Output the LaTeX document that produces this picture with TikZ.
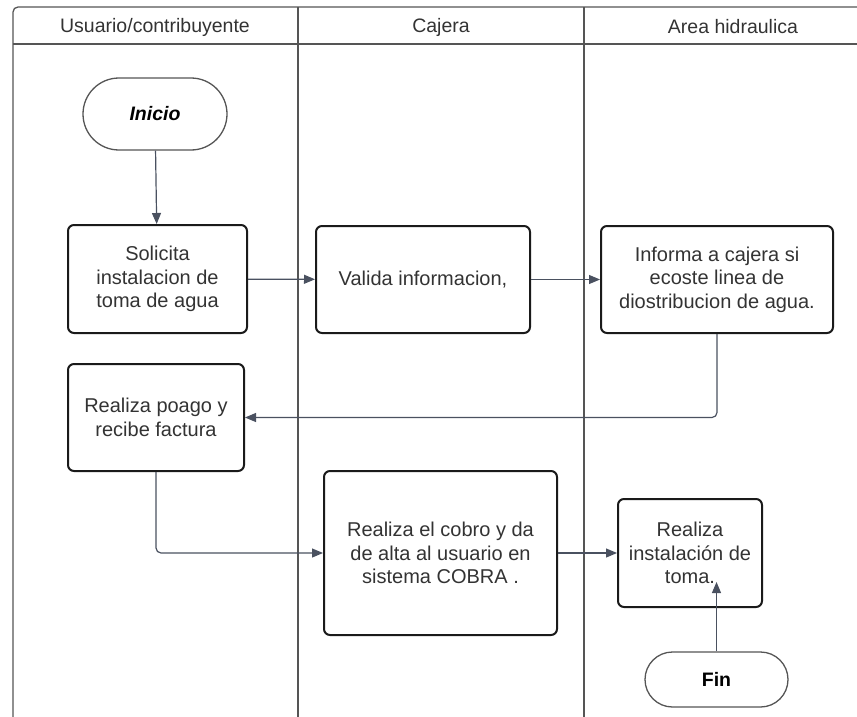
\documentclass[tikz,border=0pt]{standalone}
\usepackage{fontspec}
\setmainfont{Liberation Sans}
\usetikzlibrary{arrows.meta,calc}
\definecolor{lanec}{HTML}{555555}
\definecolor{connc}{HTML}{4A5160}
\definecolor{txtc}{HTML}{333333}
\definecolor{bordc}{HTML}{1A1A1A}
\begin{document}
\begin{tikzpicture}[x=1pt,y=-1pt,
  lanel/.style={draw=lanec,line width=1.3pt},
  hdr/.style={font=\fontsize{19.5}{22}\selectfont,text=txtc,inner sep=0pt},
  proc/.style={draw=bordc,line width=2pt,rounded corners=6pt,align=center,text=txtc,
    font=\fontsize{20}{23.5}\selectfont,inner sep=0pt},
  term/.style={draw=lanec,line width=1.3pt,align=center,text=black,inner sep=0pt,
    font=\fontsize{19.5}{22}\selectfont\bfseries},
  conn/.style={draw=connc,line width=1.2pt,-{Triangle[length=11pt,width=9pt]}}]
\useasboundingbox (0,0) rectangle (857,717);
% swimlanes
\draw[lanel,rounded corners=5pt] (13,717) -- (13,7) -- (857,7);
\draw[lanel] (13,44) -- (857,44);
\draw[lanel] (298,7) -- (298,717);
\draw[lanel] (584,7) -- (584,717);
\node[hdr] (h1) at (155,27) {Usuario/contribuyente};
\node[hdr] (h2) at (441,27) {Cajera};
\node[hdr] (h3) at (733,27) {Area hidraulica};
% nodes
\node[term,minimum width=144pt,minimum height=72pt,rounded corners=36pt] (inicio) at (155,114) {\itshape Inicio};
\node[proc,minimum width=179pt,minimum height=108pt] (solicita) at (157.5,279) {Solicita\\instalacion de\\toma de agua};
\node[proc,minimum width=214pt,minimum height=107pt] (valida) at (423,279.5) {Valida informacion,};
\node[proc,minimum width=232pt,minimum height=107pt] (informa) at (717,279.5) {Informa a cajera si\\ecoste linea de\\diostribucion de agua.};
\node[proc,minimum width=176pt,minimum height=107pt] (poago) at (156,417.5) {Realiza poago y\\recibe factura};
\node[proc,minimum width=233pt,minimum height=164pt] (cobro) at (440.5,553) {Realiza el cobro y da\\de alta al usuario en\\sistema COBRA .};
\node[proc,minimum width=144pt,minimum height=108pt] (instal) at (690,553) {Realiza\\instalación de\\toma.};
\node[term,minimum width=143pt,minimum height=55pt,rounded corners=27.5pt] (fin) at (716.5,679.5) {Fin};
\coordinate (finend) at (716.5,582);
% connectors
\draw[conn] (inicio) -- (solicita);
\draw[conn] (solicita) -- (valida);
\draw[conn] (valida) -- (informa);
\draw[conn,rounded corners=5pt] (informa.south) |- (poago.east);
\draw[conn,rounded corners=5pt] (poago.south) |- (cobro.west);
\draw[conn] (cobro) -- (instal);
\draw[conn] (fin.north) -- (finend);
\end{tikzpicture}
\end{document}
